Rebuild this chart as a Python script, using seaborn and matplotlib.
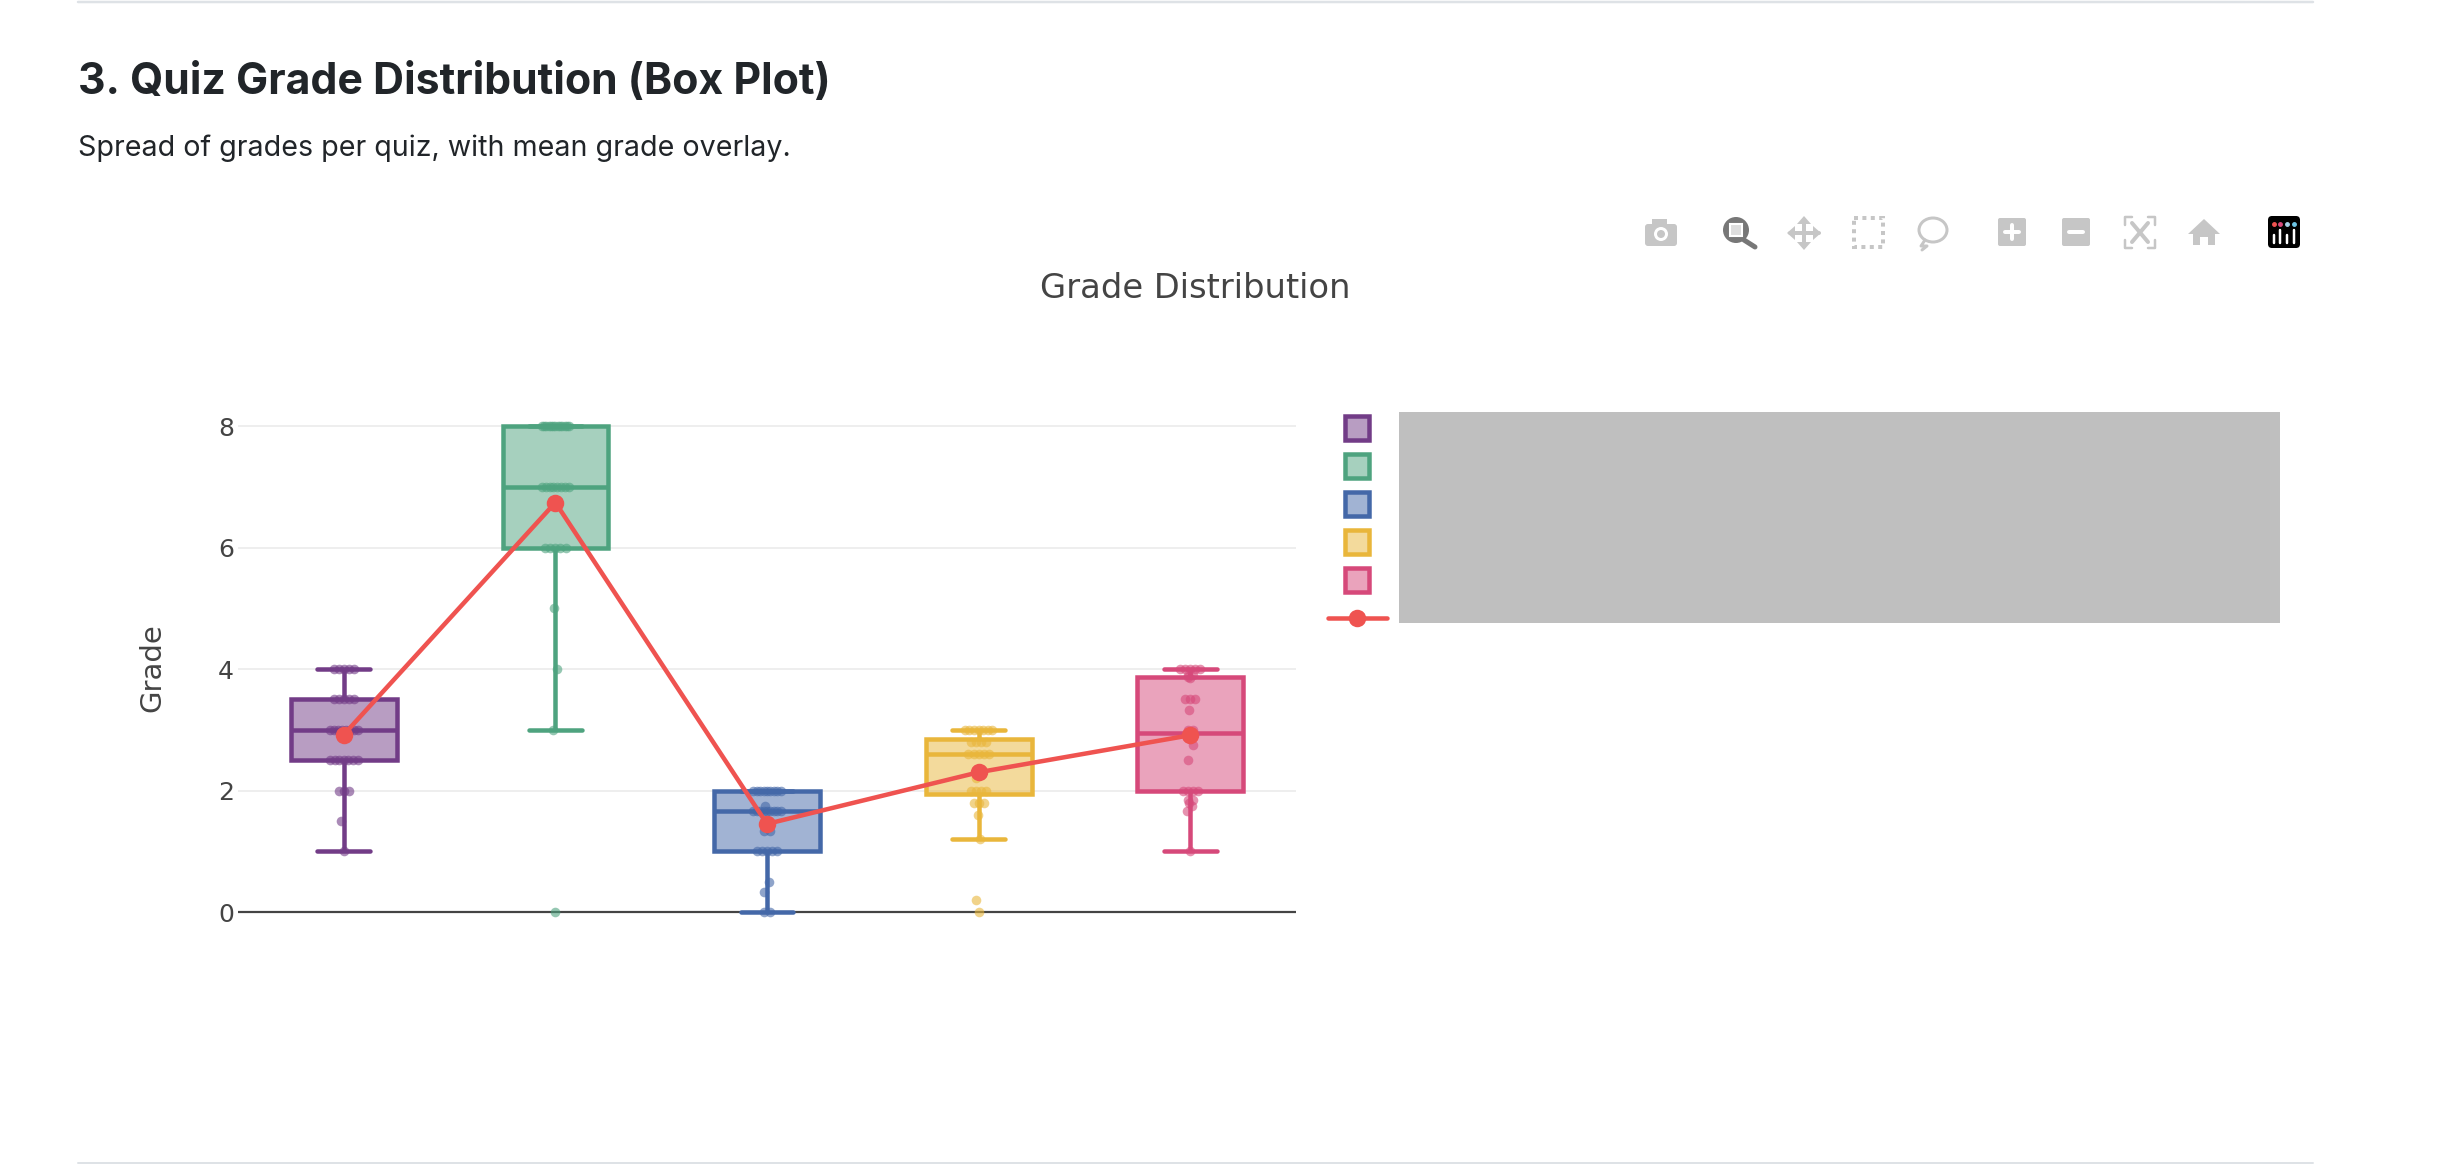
import numpy as np
import pandas as pd
import seaborn as sns
import matplotlib.pyplot as plt
from matplotlib.colors import to_rgba
from matplotlib.patches import Rectangle, FancyBboxPatch, Circle, Ellipse, Polygon

# Grades
quiz_names = ["Quiz 1", "Quiz 2", "Quiz 3", "Quiz 4", "Quiz 5"]
quiz1_grades = [1, 1.5, 2, 2, 2] + [2.5] * 7 + [3] * 8 + [3.5] * 5 + [4] * 5
quiz2_grades = [0, 3, 4, 5] + [6] * 5 + [7] * 8 + [8] * 13
quiz3_grades = [0, 0, 0.33, 0.5] + [1] * 5 + [1.33] * 2 + [1.67] * 9 + [1.75] + [2] * 9
quiz4_grades = [0, 0.2, 1.2, 1.6, 1.8, 1.8, 1.8, 2, 2, 2, 2, 2.2] + [2.6] * 5 + [2.8] * 4 + [3] * 7
quiz5_grades = [1, 1.67, 1.75, 1.8, 1.85, 1.85, 2, 2, 2, 2, 2.5, 2.75, 2.85, 2.9, 2.9, 3, 3,
                3.33, 3.5, 3.5, 3.5, 3.85, 3.87, 3.9, 3.9, 4, 4, 4, 4, 4]
mean_grades = [2.92, 6.74, 1.45, 2.30, 2.91]
y_ticks = [0, 2, 4, 6, 8]

quiz_colors = ["#723c87", "#4ea37f", "#4468a8", "#e9b63b", "#d6497a"]
mean_color = "#ef5350"

W, H = 2454, 1164
PX = 0.72  # one pixel in points at dpi 100

all_grades = [quiz1_grades, quiz2_grades, quiz3_grades, quiz4_grades, quiz5_grades]
rows = []
for i, grades in enumerate(all_grades):
    values, counts = np.unique(grades, return_counts=True)
    for k, (v, n) in enumerate(zip(values, counts)):
        # plotly style jitter: wider where more points share a grade
        if n == 1:
            offsets = [((k * 0.618 + 0.5) % 1 - 0.5) * 0.035]
        else:
            w = min(0.065, 0.012 * (n - 1))
            offsets = np.linspace(-w, w, n)
        for off in offsets:
            rows.append({"quiz": quiz_names[i], "grade": v, "pos": i + off})
df = pd.DataFrame(rows)

sns.set_theme(style="white")
fig = plt.figure(figsize=(W / 100, H / 100), dpi=100, facecolor="white")

# plot area in pixels: x 238-1296, zero at y=912, 8 at y=426
top, bottom = 400, 935
per_unit = (912 - 426) / 8
ax = fig.add_axes([238 / W, 1 - bottom / H, (1296 - 238) / W, (bottom - top) / H])

for quiz, color in zip(quiz_names, quiz_colors):
    sns.boxplot(data=df[df["quiz"] == quiz], x="quiz", y="grade", order=quiz_names,
                color=color, linecolor=color, width=0.5, linewidth=4.5 * PX,
                showfliers=False, saturation=1, ax=ax,
                boxprops={"facecolor": to_rgba(color, 0.5)})
    sub = df[df["quiz"] == quiz]
    sns.scatterplot(x=sub["pos"].values, y=sub["grade"].values, color=color, alpha=0.6,
                    s=48, linewidth=0, ax=ax, zorder=3, clip_on=False)

sns.lineplot(x=np.arange(len(mean_grades)), y=mean_grades, color=mean_color, linewidth=4.5 * PX,
             marker="o", markersize=17.5 * PX, markeredgewidth=0, ax=ax, zorder=5)

ax.set_xlim(-0.5, 4.5)
ax.set_ylim((912 - bottom) / per_unit, (912 - top) / per_unit)
ax.set_yticks(y_ticks)
ax.set_xticks([])
ax.set_xlabel("")
ax.set_ylabel("")
ax.tick_params(axis="y", length=0, pad=3, labelsize=18, labelcolor="#444444")
ax.set_axisbelow(True)
ax.grid(axis="y", color="#eeeeee", linewidth=2 * PX)
ax.axhline(0, color="#444444", linewidth=2.2 * PX, zorder=1)
sns.despine(ax=ax, left=True, bottom=True)
ax.patch.set_alpha(0)

# page furniture in pixel coordinates
page = fig.add_axes([0, 0, 1, 1], zorder=-1)
page.set_xlim(0, W)
page.set_ylim(H, 0)
page.axis("off")
over = fig.add_axes([0, 0, 1, 1], zorder=10)
over.set_xlim(0, W)
over.set_ylim(H, 0)
over.axis("off")
over.patch.set_alpha(0)

page.plot([78, 2313], [2, 2], color="#dee2e6", lw=2.5 * PX)
page.plot([78, 2313], [1163, 1163], color="#dee2e6", lw=2 * PX)
page.text(78, 83, "3. Quiz Grade Distribution (Box Plot)", family="Inter", weight="bold",
          fontsize=30.8, color="#212529", va="center")
page.text(78, 148, "Spread of grades per quiz, with mean grade overlay.", family="Inter",
          fontsize=20.6, color="#212529", va="center")
page.text(1195, 289, "Grade Distribution", family="DejaVu Sans", fontsize=24.3, color="#444444",
          ha="center", va="center")
page.text(152, 668, "Grade", family="DejaVu Sans", fontsize=21, color="#444444", rotation=90,
          ha="center", va="center")

# legend swatches, the labels are hidden behind the grey block
swatch_tops = [414, 452, 490, 528, 566]
for y, color in zip(swatch_tops, quiz_colors):
    over.add_patch(Rectangle((1345, y + 2), 24, 24, facecolor=to_rgba(color, 0.5),
                             edgecolor=color, lw=4.5 * PX))
over.plot([1328, 1387], [618, 618], color=mean_color, lw=4.5 * PX)
over.plot([1357], [618], "o", color=mean_color, ms=17.5 * PX, mew=0)
over.add_patch(Rectangle((1399, 412), 881, 211, facecolor="#bfbfbf", edgecolor="none"))

# plotly modebar icons
ICON = "#c6c6c6"

# camera
over.add_patch(FancyBboxPatch((1645, 224), 32, 22, boxstyle="round,pad=0,rounding_size=3", fc=ICON, ec="none"))
over.add_patch(Rectangle((1652, 219), 15, 6, fc=ICON, ec="none"))
over.add_patch(Circle((1661, 234), 7, fc="white", ec="none"))
over.add_patch(Circle((1661, 234), 4, fc=ICON, ec="none"))

# zoom, active
over.add_patch(Circle((1736, 230), 13, fc="#777777", ec="none"))
over.add_patch(Rectangle((1730, 224), 12, 12, fc="#dddddd", ec="white", lw=1.5))
over.plot([1744, 1755], [240, 247], color="#777777", lw=5 * PX, solid_capstyle="round")

# pan
over.plot([1804, 1804], [220, 246], color=ICON, lw=4 * PX)
over.plot([1790, 1819], [233, 233], color=ICON, lw=4 * PX)
for pts in ([(1804, 216), (1797, 224), (1811, 224)], [(1804, 250), (1797, 242), (1811, 242)],
            [(1787, 233), (1795, 226), (1795, 240)], [(1821, 233), (1813, 226), (1813, 240)]):
    over.add_patch(Polygon(pts, fc=ICON, ec="none"))

# box select
over.add_patch(Rectangle((1854, 218), 29, 29, fc="none", ec=ICON, lw=4 * PX, ls=(0, (1, 1.1))))

# lasso
over.add_patch(Ellipse((1933, 230), 28, 24, fc="none", ec=ICON, lw=3 * PX))
over.plot([1925, 1921, 1927, 1922], [240, 246, 246, 250], color=ICON, lw=3 * PX)

# zoom in, zoom out
for x0, plus in ((1998, True), (2062, False)):
    over.add_patch(FancyBboxPatch((x0, 218), 28, 28, boxstyle="round,pad=0,rounding_size=2", fc=ICON, ec="none"))
    over.plot([x0 + 7, x0 + 21], [232, 232], color="white", lw=4 * PX)
    if plus:
        over.plot([x0 + 14, x0 + 14], [225, 239], color="white", lw=4 * PX)

# autoscale
for xs, ys in (([2125, 2125, 2132], [225, 217, 217]), ([2148, 2155, 2155], [217, 217, 225]),
               ([2125, 2125, 2132], [240, 248, 248]), ([2148, 2155, 2155], [248, 248, 240])):
    over.plot(xs, ys, color=ICON, lw=2.5 * PX)
over.plot([2132, 2148], [223, 242], color=ICON, lw=4 * PX)
over.plot([2148, 2132], [223, 242], color=ICON, lw=4 * PX)

# home
over.add_patch(Polygon([(2204, 219), (2220, 234), (2215, 234), (2215, 245), (2208, 245), (2208, 237),
                        (2200, 237), (2200, 245), (2193, 245), (2193, 234), (2188, 234)], fc=ICON, ec="none"))

# plotly logo
over.add_patch(FancyBboxPatch((2268, 216), 32, 32, boxstyle="round,pad=0,rounding_size=4", fc="black", ec="none"))
for x, y0 in zip([2274, 2280, 2287, 2294], [235, 230, 235, 230]):
    over.plot([x, x], [y0, 243], color="white", lw=2.5 * PX)
for x, c in zip([2274, 2280, 2287, 2294], ["#ef5350", "#d6497a", "#a6d1e8", "#6ec6e6"]):
    over.plot([x], [224], "o", color=c, ms=2.5)

fig.savefig("out.png", dpi=100, facecolor="white")
